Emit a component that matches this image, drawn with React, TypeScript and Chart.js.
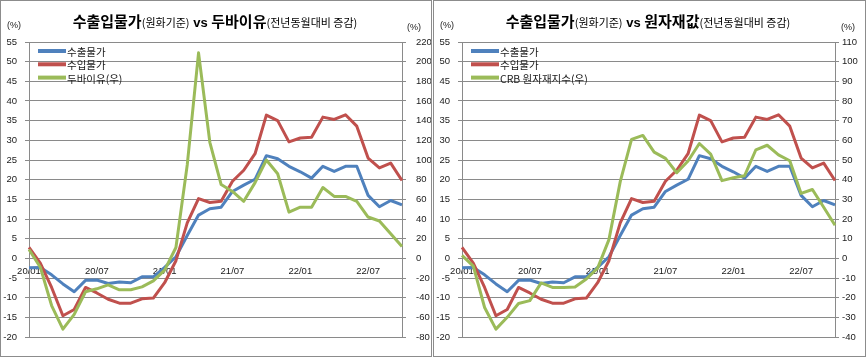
import React, { useEffect, useRef } from "react";
import { Chart, registerables } from "chart.js";
Chart.register(...registerables);

const months = [
  "20/01", "20/02", "20/03", "20/04", "20/05", "20/06", "20/07", "20/08", "20/09", "20/10", "20/11", "20/12",
  "21/01", "21/02", "21/03", "21/04", "21/05", "21/06", "21/07", "21/08", "21/09", "21/10", "21/11", "21/12",
  "22/01", "22/02", "22/03", "22/04", "22/05", "22/06", "22/07", "22/08", "22/09", "22/10",
];

const exportPrice = [
  -2.4, -2.3, -4.2, -6.5, -8.5, -5.6, -5.5, -6.4, -6.0, -6.2, -4.7, -4.7,
  -2.3, 0.4, 5.8, 11.0, 12.6, 13.0, 17.0, 18.6, 20.1, 26.1, 25.3, 23.4,
  22.0, 20.4, 23.4, 22.1, 23.4, 23.4, 16.0, 13.1, 14.7, 13.6,
];

const importPrice = [
  2.8, -1.2, -7.4, -14.6, -13.0, -7.4, -8.8, -10.4, -11.4, -11.4, -10.3, -10.1,
  -6.2, -0.6, 9.0, 15.2, 14.2, 14.5, 19.6, 22.4, 26.6, 36.4, 35.0, 29.6,
  30.6, 30.8, 35.9, 35.3, 36.5, 33.6, 25.5, 23.0, 24.2, 19.8,
];

const dubaiOil = [
  9, -9, -48, -72, -57, -34, -31, -27, -32, -32, -29, -23,
  -12, 11, 95, 209, 118, 75, 68, 58, 77, 100, 86, 47,
  52, 52, 72, 63, 63, 58, 42, 38, 25, 12,
];

const crbIndex = [
  1.5, -4, -25, -36, -30, -23, -21.5, -12.5, -14.8, -14.8, -14.6, -10.5,
  -5, 9.5, 39, 60.5, 62.5, 54, 50.8, 43.5, 49.5, 58.4, 53, 39.5,
  41, 42, 55.2, 57.5, 52.6, 49.6, 33, 35, 26, 16.8,
];

const leftAxis = { min: -20, max: 55, step: 5 };
const dubaiAxis = { min: -80, max: 220, step: 20 };
const crbAxis = { min: -40, max: 110, step: 10 };

const BLUE = "#4F81BD";
const RED = "#C0504D";
const GREEN = "#9BBB59";
const GRID = "#8a8a8a";
const TXT = "#1a1a1a";
const NUM_FONT = "'Liberation Sans', 'Noto Sans CJK KR', sans-serif";
const KR_FONT = "'Noto Sans CJK KR', 'Liberation Sans', sans-serif";

const panelPlugin = {
  id: "panelText",
  afterDraw(chart: any, _args: any, opts: any) {
    const ctx = chart.ctx as CanvasRenderingContext2D;
    ctx.save();
    const parts = opts.parts as { text: string; font: string }[];
    let total = 0;
    const widths = parts.map((p) => {
      ctx.font = p.font;
      const w = ctx.measureText(p.text).width;
      total += w;
      return w;
    });
    let x = opts.cx - total / 2;
    ctx.fillStyle = "#000";
    ctx.textAlign = "left";
    ctx.textBaseline = "alphabetic";
    parts.forEach((p, i) => {
      ctx.font = p.font;
      ctx.fillText(p.text, x, 27);
      x += widths[i];
    });
    ctx.font = `9px ${NUM_FONT}`;
    ctx.fillStyle = TXT;
    ctx.textBaseline = "middle";
    ctx.fillText("(%)", 7, 26);
    ctx.fillText("(%)", opts.rightUnitX, 28);
    const items = opts.legend as { label: string; color: string }[];
    items.forEach((it, i) => {
      const y = 51 + i * 13.3;
      ctx.strokeStyle = it.color;
      ctx.lineWidth = 4;
      ctx.beginPath();
      ctx.moveTo(38, y);
      ctx.lineTo(66, y);
      ctx.stroke();
      ctx.fillStyle = TXT;
      ctx.font = `10.5px ${KR_FONT}`;
      ctx.textBaseline = "middle";
      ctx.fillText(it.label, 67, y + 1);
    });
    ctx.restore();
  },
};

type PanelProps = {
  width: number;
  height: number;
  title: string;
  thirdLabel: string;
  thirdData: number[];
  rightAxis: { min: number; max: number; step: number };
  rightPad: number;
  rightUnitX: number;
};

function Panel({ width, height, title, thirdLabel, thirdData, rightAxis, rightPad, rightUnitX }: PanelProps) {
  const ref = useRef<HTMLCanvasElement | null>(null);
  useEffect(() => {
    if (!ref.current) return;
    const lineDs = (label: string, data: number[], color: string, axis: string) => ({
      label,
      data,
      borderColor: color,
      backgroundColor: color,
      borderWidth: 3,
      pointRadius: 0,
      tension: 0,
      fill: false,
      borderJoinStyle: "round" as const,
      yAxisID: axis,
    });
    const chart = new Chart(ref.current, {
      type: "line",
      data: {
        labels: months,
        datasets: [
          lineDs(thirdLabel, thirdData, GREEN, "y1"),
          lineDs("수입물가", importPrice, RED, "y"),
          lineDs("수출물가", exportPrice, BLUE, "y"),
        ],
      },
      options: {
        animation: false,
        responsive: false,
        devicePixelRatio: 1,
        layout: { padding: { top: 42, bottom: 20, left: 0, right: 0 } },
        plugins: {
          legend: { display: false },
          tooltip: { enabled: false },
          title: { display: false },
          panelText: {
            cx: 215,
            rightUnitX,
            parts: [
              { text: "수출입물가", font: `bold 15px ${KR_FONT}` },
              { text: "(원화기준)", font: `11px ${KR_FONT}` },
              { text: " vs ", font: `bold 13px ${NUM_FONT}` },
              { text: title, font: `bold 15px ${KR_FONT}` },
              { text: "(전년동월대비 증감)", font: `11px ${KR_FONT}` },
            ],
            legend: [
              { label: "수출물가", color: BLUE },
              { label: "수입물가", color: RED },
              { label: thirdLabel, color: GREEN },
            ],
          },
        } as any,
        scales: {
          x: {
            type: "category",
            position: { y: 0 } as any,
            offset: false,
            grid: { display: false, drawTicks: false },
            border: { display: false },
            ticks: {
              autoSkip: false,
              maxRotation: 0,
              padding: 7,
              color: TXT,
              font: { family: NUM_FONT, size: 9.5 },
              callback: (_v: any, i: number) => (i % 6 === 0 ? months[i] : null),
            },
          },
          y: {
            position: "left",
            min: leftAxis.min,
            max: leftAxis.max,
            afterFit: (s: any) => {
              s.width = 29;
            },
            grid: { color: GRID, lineWidth: 1, tickLength: 4, drawTicks: true },
            border: { display: true, color: GRID, width: 1 },
            ticks: {
              stepSize: leftAxis.step,
              padding: 8,
              color: TXT,
              font: { family: NUM_FONT, size: 9.5 },
            },
          },
          y1: {
            position: "right",
            min: rightAxis.min,
            max: rightAxis.max,
            afterFit: (s: any) => {
              s.width = width - 402;
            },
            grid: { drawOnChartArea: false, color: GRID, tickLength: 4, drawTicks: true },
            border: { display: true, color: GRID, width: 1 },
            ticks: {
              stepSize: rightAxis.step,
              padding: rightPad,
              color: TXT,
              font: { family: NUM_FONT, size: 9.5 },
            },
          },
        },
      },
      plugins: [panelPlugin as any],
    });
    return () => chart.destroy();
  }, [width, height, title, thirdLabel, thirdData, rightAxis, rightPad, rightUnitX]);
  return <canvas ref={ref} width={width} height={height} style={{ display: "block", width, height }} />;
}

export default function App() {
  const H = 357;
  return (
    <div style={{ position: "absolute", left: 0, top: 0, width: 866, height: H, background: "#fff" }}>
      <div style={{ position: "absolute", left: 0, top: 0, width: 432, height: H }}>
        <Panel width={432} height={H} title="두바이유" thirdLabel="두바이유(우)" thirdData={dubaiOil} rightAxis={dubaiAxis} rightPad={10} rightUnitX={407} />
        <div style={{ position: "absolute", inset: 0, border: "1px solid #8c8c8c", boxSizing: "border-box", pointerEvents: "none" }} />
      </div>
      <div style={{ position: "absolute", left: 433, top: 0, width: 433, height: H }}>
        <Panel width={433} height={H} title="원자재값" thirdLabel="CRB 원자재지수(우)" thirdData={crbIndex} rightAxis={crbAxis} rightPad={3} rightUnitX={408} />
        <div style={{ position: "absolute", inset: 0, border: "1px solid #8c8c8c", boxSizing: "border-box", pointerEvents: "none" }} />
      </div>
    </div>
  );
}
